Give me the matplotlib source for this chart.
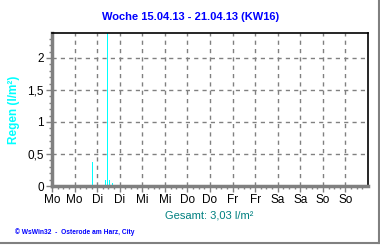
import numpy as np
import matplotlib
matplotlib.use('Agg')
import matplotlib.pyplot as plt
from matplotlib.lines import Line2D

# rain data: hours from Monday 00:00 and amount (l/m2)
rain_hours = [21.5, 28.5, 29.5, 30.5, 32.0]
rain_values = [0.38, 0.09, 2.42, 0.09, 0.05]
day_labels = ['Mo', 'Mo', 'Di', 'Di', 'Mi', 'Mi', 'Do', 'Do',
              'Fr', 'Fr', 'Sa', 'Sa', 'So', 'So']
y_ticks = [0, 0.5, 1, 1.5, 2]
y_labels = ['0', '0,5', '1', '1,5', '2']
total_text = 'Gesamt: 3,03 l/m²'

plt.rcParams['font.family'] = ['Liberation Sans', 'DejaVu Sans']

fig = plt.figure(figsize=(3.8, 2.45), dpi=100)
ax = fig.add_axes([52 / 380, 1 - 186 / 245, 316 / 380, 153 / 245])

ax.bar(rain_hours, rain_values, width=0.6, color='#00ffff', linewidth=0,
       antialiased=False)

ax.set_xlim(0, 168)
ax.set_ylim(0, 2.39)
ax.set_xticks(np.arange(0, 168, 12))
ax.set_xticklabels(day_labels, fontsize=8.5)
ax.set_xticks(np.arange(0, 168, 3), minor=True)
ax.set_yticks(y_ticks)
ax.set_yticklabels(y_labels, fontsize=8.5)
ax.set_yticks(np.arange(0, 2.4, 0.1), minor=True)

ax.grid(True, which='major', color='#808080', linestyle=(0, (3, 3)), linewidth=1)
ax.set_axisbelow(True)

for s in ['top', 'right']:
    ax.spines[s].set_color('black')
    ax.spines[s].set_linewidth(1.2)
for s in ['left', 'bottom']:
    ax.spines[s].set_color('#808080')
    ax.spines[s].set_linewidth(2.5)

ax.tick_params(which='major', length=4, width=1, color='#808080', pad=2)
ax.tick_params(which='minor', length=2.5, width=1, color='#808080')

ax.set_ylabel('Regen (l/m²)', color='#00ffff', fontsize=8.5,
              fontweight='bold', labelpad=5)

fig.text(191 / 380, 1 - 17 / 245, 'Woche 15.04.13 - 21.04.13 (KW16)',
         color='#0000ff', fontsize=8, fontweight='bold',
         ha='center', va='center')
fig.text(209 / 380, 1 - 215 / 245, total_text, color='#008080',
         fontsize=8, ha='center', va='center')
fig.text(15 / 380, 1 - 232 / 245, '© WsWin32  -  Osterode am Harz, City',
         color='#0000ff', fontsize=4.8, fontweight='bold',
         ha='left', va='center')

# grey frame at the right and bottom edge of the image
fig.add_artist(Line2D([378.5 / 380, 378.5 / 380], [1 - 243 / 245, 1],
                      color='#808080', linewidth=1.5))
fig.add_artist(Line2D([0, 378.5 / 380], [1 - 243 / 245, 1 - 243 / 245],
                      color='#808080', linewidth=1.5))

fig.savefig('out.png', dpi=100)
